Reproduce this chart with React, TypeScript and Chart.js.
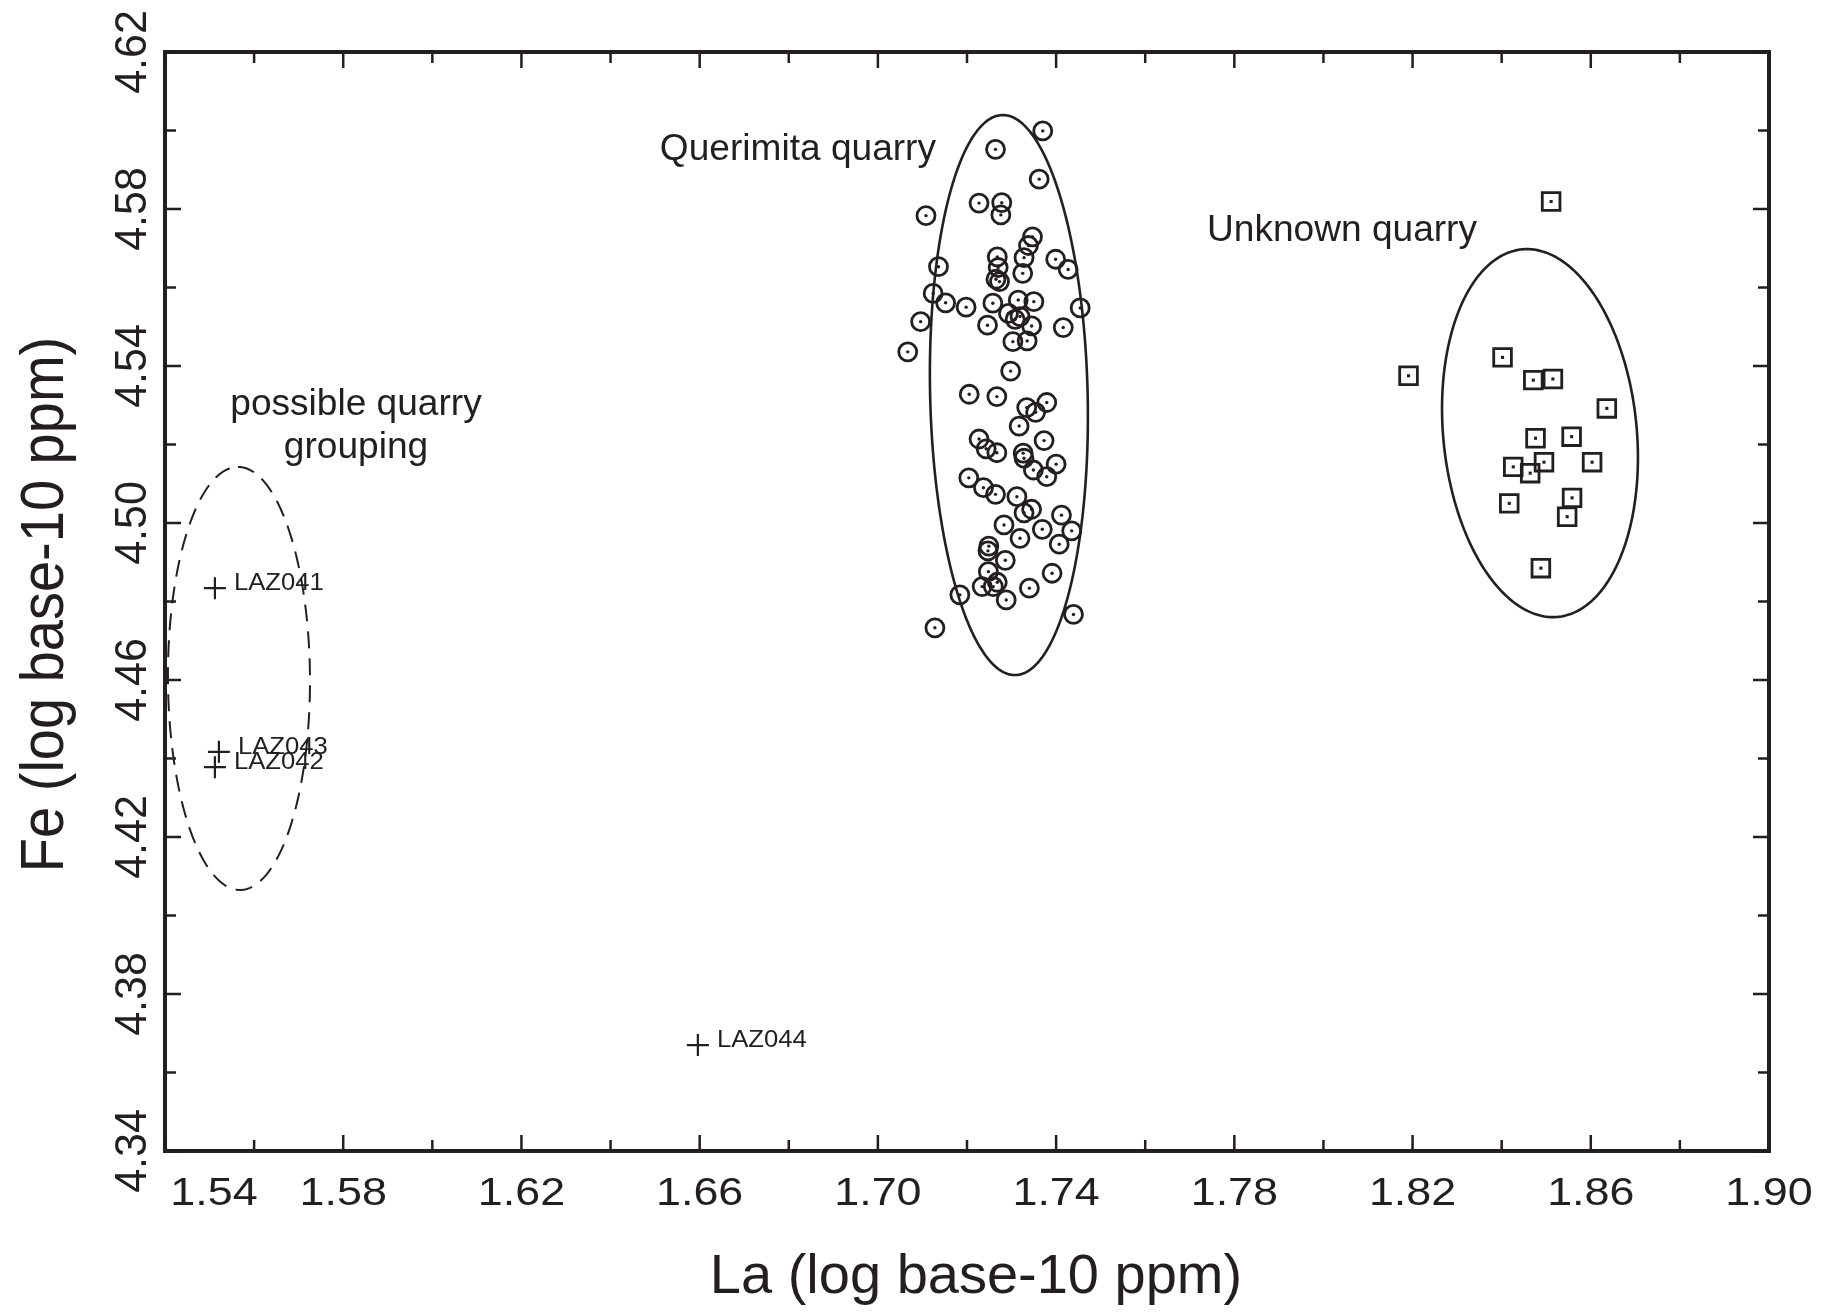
import React, { useEffect, useRef } from 'react';
import { Chart, registerables } from 'chart.js';

Chart.register(...registerables);

// ---------- data ----------
const querimitaLa = [
  1.7370, 1.7264, 1.7362, 1.7227, 1.7278, 1.7276, 1.7108, 1.7347, 1.7338, 1.7328,
  1.7268, 1.7399, 1.7427, 1.7136, 1.7270, 1.7325, 1.7265, 1.7273, 1.7124, 1.7152,
  1.7198, 1.7258, 1.7315, 1.7350, 1.7454, 1.7293, 1.7308, 1.7319, 1.7345, 1.7246,
  1.7416, 1.7096, 1.7067, 1.7303, 1.7335, 1.7298,
  1.7205, 1.7267, 1.7379, 1.7334, 1.7354, 1.7317, 1.7227, 1.7243, 1.7267, 1.7373,
  1.7326, 1.7328, 1.7400, 1.7349, 1.7379, 1.7204, 1.7237, 1.7264, 1.7312, 1.7345,
  1.7328, 1.7412, 1.7283, 1.7369, 1.7435, 1.7319, 1.7407, 1.7249, 1.7247, 1.7286,
  1.7248, 1.7391, 1.7268, 1.7234, 1.7259, 1.7340, 1.7184, 1.7288, 1.7439, 1.7128,
];
const querimitaFe = [
  4.5999, 4.5952, 4.5876, 4.5815, 4.5816, 4.5785, 4.5783, 4.5729, 4.5707, 4.5676,
  4.5678, 4.5672, 4.5646, 4.5653, 4.5651, 4.5636, 4.5621, 4.5615, 4.5585, 4.5561,
  4.5550, 4.5560, 4.5568, 4.5564, 4.5548, 4.5534, 4.5519, 4.5526, 4.5502, 4.5504,
  4.5498, 4.5513, 4.5436, 4.5462, 4.5464, 4.5387,
  4.5328, 4.5322, 4.5307, 4.5294, 4.5282, 4.5247, 4.5214, 4.5189, 4.5179, 4.5210,
  4.5178, 4.5165, 4.5150, 4.5135, 4.5118, 4.5115, 4.5090, 4.5073, 4.5067, 4.5035,
  4.5026, 4.5020, 4.4995, 4.4984, 4.4980, 4.4961, 4.4946, 4.4941, 4.4929, 4.4905,
  4.4876, 4.4872, 4.4849, 4.4838, 4.4838, 4.4834, 4.4817, 4.4804, 4.4767, 4.4733,
];

const unknownLa = [
  1.8511, 1.8191, 1.8402, 1.8471, 1.8515, 1.8636, 1.8476, 1.8557,
  1.8426, 1.8495, 1.8464, 1.8603, 1.8417, 1.8558, 1.8547, 1.8488,
];
const unknownFe = [
  4.5819, 4.5375, 4.5422, 4.5364, 4.5367, 4.5292, 4.5216, 4.5220,
  4.5143, 4.5155, 4.5127, 4.5155, 4.5050, 4.5064, 4.5016, 4.4885,
];

const lazNames = ['LAZ041', 'LAZ042', 'LAZ043', 'LAZ044'];
const lazLa = [1.5512, 1.5512, 1.5521, 1.6596];
const lazFe = [4.4834, 4.4378, 4.4417, 4.3670];

// group ellipses: centre, vertical semi-diameter, horizontal half-width
const ellipseCenterLa = [1.7294, 1.8486, 1.5566];
const ellipseCenterFe = [4.5326, 4.5229, 4.4604];
const ellipseAxisLa = [-0.00135, -0.00292, -0.00022];
const ellipseAxisFe = [0.07134, 0.04688, 0.05389];
const ellipseHalfWidthLa = [0.01768, 0.02179, 0.01594];
const ellipseDashed = [false, false, true];

// axes
const xMin = 1.54;
const xMax = 1.90;
const yMin = 4.34;
const yMax = 4.62;
const xMajorTicks = [1.54, 1.58, 1.62, 1.66, 1.70, 1.74, 1.78, 1.82, 1.86, 1.90];
const xMinorTicks = [1.56, 1.60, 1.64, 1.68, 1.72, 1.76, 1.80, 1.84, 1.88];
const yMajorTicks = [4.34, 4.38, 4.42, 4.46, 4.50, 4.54, 4.58, 4.62];
const yMinorTicks = [4.36, 4.40, 4.44, 4.48, 4.52, 4.56, 4.60];
const xTitle = 'La (log base-10 ppm)';
const yTitle = 'Fe (log base-10 ppm)';

const INK = '#231f20';
const FONT = '"Liberation Sans", Arial, Helvetica, sans-serif';

function drawText(
  ctx: CanvasRenderingContext2D,
  text: string,
  x: number,
  y: number,
  size: number,
  sx: number,
  align: CanvasTextAlign,
  rotate = false,
) {
  ctx.save();
  ctx.translate(x, y);
  ctx.scale(sx, 1);
  if (rotate) ctx.rotate(-Math.PI / 2);
  ctx.font = `${size}px ${FONT}`;
  ctx.fillStyle = INK;
  ctx.textAlign = align;
  ctx.textBaseline = 'alphabetic';
  ctx.fillText(text, 0, 0);
  ctx.restore();
}

const decorPlugin = {
  id: 'decor',
  beforeDatasetsDraw(chart: any) {
    const { ctx } = chart;
    const xs = chart.scales.x;
    const ys = chart.scales.y;
    for (let i = 0; i < ellipseCenterLa.length; i++) {
      ctx.save();
      ctx.strokeStyle = INK;
      ctx.lineWidth = ellipseDashed[i] ? 2 : 2.6;
      if (ellipseDashed[i]) ctx.setLineDash([17, 10]);
      ctx.beginPath();
      const n = 360;
      for (let k = 0; k <= n; k++) {
        const t = (k / n) * Math.PI * 2;
        const la = ellipseCenterLa[i] + ellipseAxisLa[i] * Math.cos(t) + ellipseHalfWidthLa[i] * Math.sin(t);
        const fe = ellipseCenterFe[i] + ellipseAxisFe[i] * Math.cos(t);
        const px = xs.getPixelForValue(la);
        const py = ys.getPixelForValue(fe);
        if (k === 0) ctx.moveTo(px, py);
        else ctx.lineTo(px, py);
      }
      ctx.stroke();
      ctx.restore();
    }
  },
  afterDatasetsDraw(chart: any) {
    const { ctx, chartArea } = chart;
    const xs = chart.scales.x;
    const ys = chart.scales.y;
    const { left, right, top, bottom } = chartArea;

    // frame
    ctx.save();
    ctx.strokeStyle = INK;
    ctx.lineWidth = 4;
    ctx.strokeRect(left, top, right - left, bottom - top);

    // inward ticks
    ctx.lineWidth = 2.5;
    const tick = (v: number, len: number, isX: boolean) => {
      ctx.beginPath();
      if (isX) {
        const p = xs.getPixelForValue(v);
        ctx.moveTo(p, bottom);
        ctx.lineTo(p, bottom - len);
        ctx.moveTo(p, top);
        ctx.lineTo(p, top + len);
      } else {
        const p = ys.getPixelForValue(v);
        ctx.moveTo(left, p);
        ctx.lineTo(left + len, p);
        ctx.moveTo(right, p);
        ctx.lineTo(right - len, p);
      }
      ctx.stroke();
    };
    xMajorTicks.forEach((v) => tick(v, 16, true));
    xMinorTicks.forEach((v) => tick(v, 11, true));
    yMajorTicks.forEach((v) => tick(v, 16, false));
    yMinorTicks.forEach((v) => tick(v, 11, false));
    ctx.restore();

    // tick labels
    xMajorTicks.forEach((v, i) => {
      const p = xs.getPixelForValue(v) + (i === 0 ? 49 : 0);
      drawText(ctx, v.toFixed(2), p, bottom + 54, 39, 1.15, 'center');
    });
    yMajorTicks.forEach((v) => {
      const p = ys.getPixelForValue(v);
      drawText(ctx, v.toFixed(2), left - 19, p, 43, 1.05, 'center', true);
    });

    // axis titles
    drawText(ctx, xTitle, (left + right) / 2 + 9, bottom + 142, 56, 1.0, 'center');
    drawText(ctx, yTitle, 63, (top + bottom) / 2 + 3, 56, 1.08, 'center', true);

    // group annotations
    drawText(ctx, 'Querimita quarry', 936, 160, 36, 1.03, 'right');
    drawText(ctx, 'Unknown quarry', 1477, 241, 36, 1.03, 'right');
    drawText(ctx, 'possible quarry', 356, 415, 36, 1.03, 'center');
    drawText(ctx, 'grouping', 356, 458, 36, 1.03, 'center');

    // point labels
    lazNames.forEach((name, i) => {
      const px = xs.getPixelForValue(lazLa[i]);
      const py = ys.getPixelForValue(lazFe[i]);
      drawText(ctx, name, px + 19, py + 2, 24, 1.07, 'left');
    });
  },
};

export default function App() {
  const ref = useRef<HTMLCanvasElement | null>(null);

  useEffect(() => {
    document.body.style.margin = '0';
    const canvas = ref.current;
    if (!canvas) return;
    const toPts = (xs: number[], ys: number[]) => xs.map((x, i) => ({ x, y: ys[i] }));
    const chart = new Chart(canvas, {
      type: 'scatter',
      data: {
        datasets: [
          {
            label: 'Querimita quarry',
            data: toPts(querimitaLa, querimitaFe),
            pointStyle: 'circle',
            radius: 9,
            borderWidth: 2.8,
            borderColor: INK,
            backgroundColor: 'rgba(0,0,0,0)',
          },
          {
            label: 'Querimita centre',
            data: toPts(querimitaLa, querimitaFe),
            pointStyle: 'circle',
            radius: 1.7,
            borderWidth: 0,
            backgroundColor: INK,
          },
          {
            label: 'Unknown quarry',
            data: toPts(unknownLa, unknownFe),
            pointStyle: 'rect',
            radius: 12.5,
            borderWidth: 2.8,
            borderColor: INK,
            backgroundColor: 'rgba(0,0,0,0)',
          },
          {
            label: 'Unknown centre',
            data: toPts(unknownLa, unknownFe),
            pointStyle: 'rect',
            radius: 2.2,
            borderWidth: 0,
            backgroundColor: INK,
          },
          {
            label: 'LAZ samples',
            data: toPts(lazLa, lazFe),
            pointStyle: 'cross',
            radius: 11,
            borderWidth: 2.2,
            borderColor: INK,
            backgroundColor: INK,
          },
        ],
      },
      options: {
        animation: false,
        responsive: false,
        devicePixelRatio: 1,
        events: [],
        layout: { padding: { left: 165, right: 1824 - 1769, top: 52, bottom: 1315 - 1151 } },
        plugins: { legend: { display: false }, tooltip: { enabled: false } },
        scales: {
          x: { type: 'linear', min: xMin, max: xMax, display: false },
          y: { type: 'linear', min: yMin, max: yMax, display: false },
        },
      },
      plugins: [decorPlugin],
    });
    return () => chart.destroy();
  }, []);

  return (
    <div style={{ width: 1824, height: 1315, background: '#fff' }}>
      <canvas ref={ref} width={1824} height={1315} style={{ display: 'block' }} />
    </div>
  );
}
